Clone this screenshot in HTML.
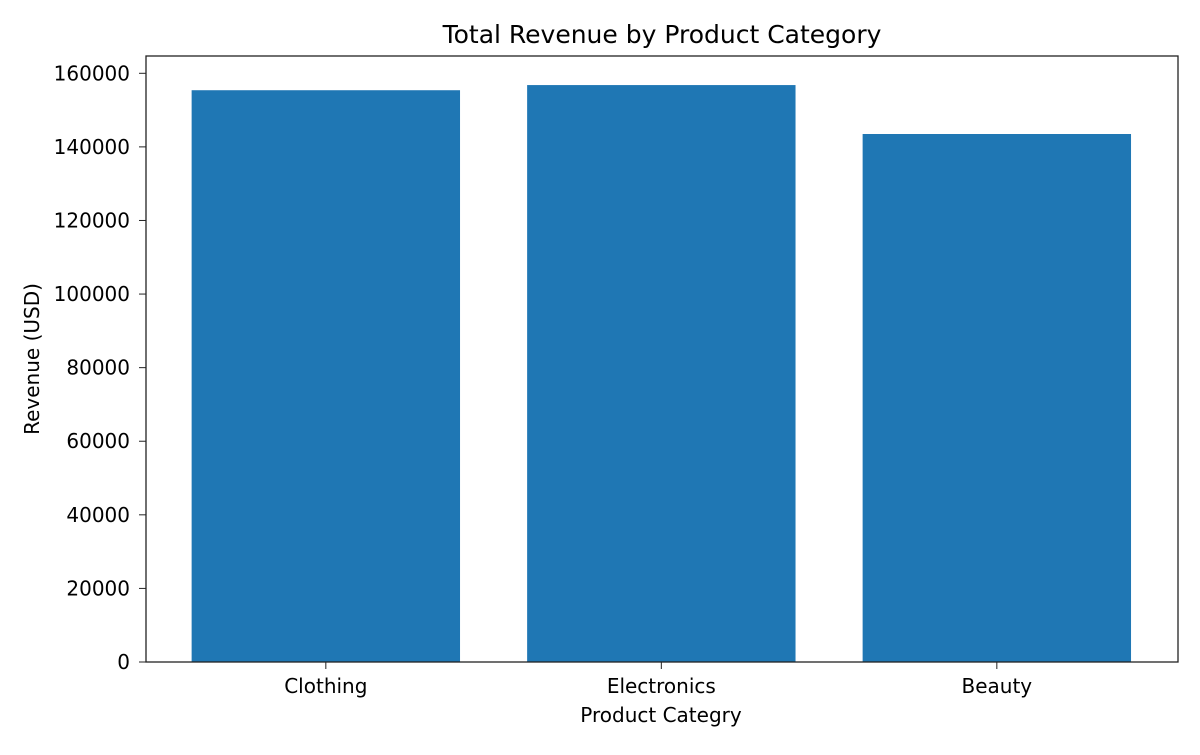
<!DOCTYPE html>
<html><head><meta charset="utf-8"><style>
html,body{margin:0;padding:0;background:#fff;}
svg text{font-family:"DejaVu Sans","Liberation Sans",sans-serif;fill:#000;}
</style></head><body>
<svg id="chart" width="1200" height="750" viewBox="0 0 1200 750" xmlns="http://www.w3.org/2000/svg">
<rect width="1200" height="750" fill="#fff"/>
<text x="662" y="43" font-size="25" text-anchor="middle">Total Revenue by Product Category</text>
<g id="bars"></g>
<g id="yticks"></g>
<g id="xticks"></g>
<rect x="146" y="56" width="1032" height="606" fill="none" stroke="#222" stroke-width="1.3"/>
<text x="661" y="722" font-size="20" text-anchor="middle">Product Categry</text>
<text transform="translate(39,359) rotate(-90)" font-size="20" text-anchor="middle">Revenue (USD)</text>
</svg>
<script>
const categories = ["Clothing", "Electronics", "Beauty"];
const revenue = [155400, 156800, 143500];
const yTickValues = [0, 20000, 40000, 60000, 80000, 100000, 120000, 140000, 160000];

const NS = "http://www.w3.org/2000/svg";
const L = 146, R = 1178, T = 56, B = 662;
const xMin = -0.536, xMax = 2.54, yMax = 164700;
function xs(v){ return L + (v - xMin) / (xMax - xMin) * (R - L); }
function ys(v){ return B - v / yMax * (B - T); }

const bars = document.getElementById("bars");
categories.forEach((c, i) => {
  const r = document.createElementNS(NS, "rect");
  const x0 = xs(i - 0.4), x1 = xs(i + 0.4);
  r.setAttribute("x", x0);
  r.setAttribute("width", x1 - x0);
  r.setAttribute("y", ys(revenue[i]));
  r.setAttribute("height", B - ys(revenue[i]));
  r.setAttribute("fill", "#1f77b4");
  
  
  bars.appendChild(r);
});

const xt = document.getElementById("xticks");
categories.forEach((c, i) => {
  const l = document.createElementNS(NS, "line");
  l.setAttribute("x1", xs(i)); l.setAttribute("x2", xs(i));
  l.setAttribute("y1", B); l.setAttribute("y2", B + 7);
  l.setAttribute("stroke", "#222");
  
  
  xt.appendChild(l);
  const t = document.createElementNS(NS, "text");
  t.setAttribute("x", xs(i)); t.setAttribute("y", B + 31);
  t.setAttribute("font-size", "20"); t.setAttribute("text-anchor", "middle");
  t.textContent = c;
  
  
  xt.appendChild(t);
});

const yt = document.getElementById("yticks");
yTickValues.forEach(v => {
  const l = document.createElementNS(NS, "line");
  l.setAttribute("x1", L - 7); l.setAttribute("x2", L);
  l.setAttribute("y1", ys(v)); l.setAttribute("y2", ys(v));
  l.setAttribute("stroke", "#222");
  
  
  yt.appendChild(l);
  const t = document.createElementNS(NS, "text");
  t.setAttribute("x", L - 16); t.setAttribute("y", ys(v) + 7);
  t.setAttribute("font-size", "20"); t.setAttribute("text-anchor", "end");
  t.textContent = String(v);
  
  
  yt.appendChild(t);
});
</script>
</body></html>
